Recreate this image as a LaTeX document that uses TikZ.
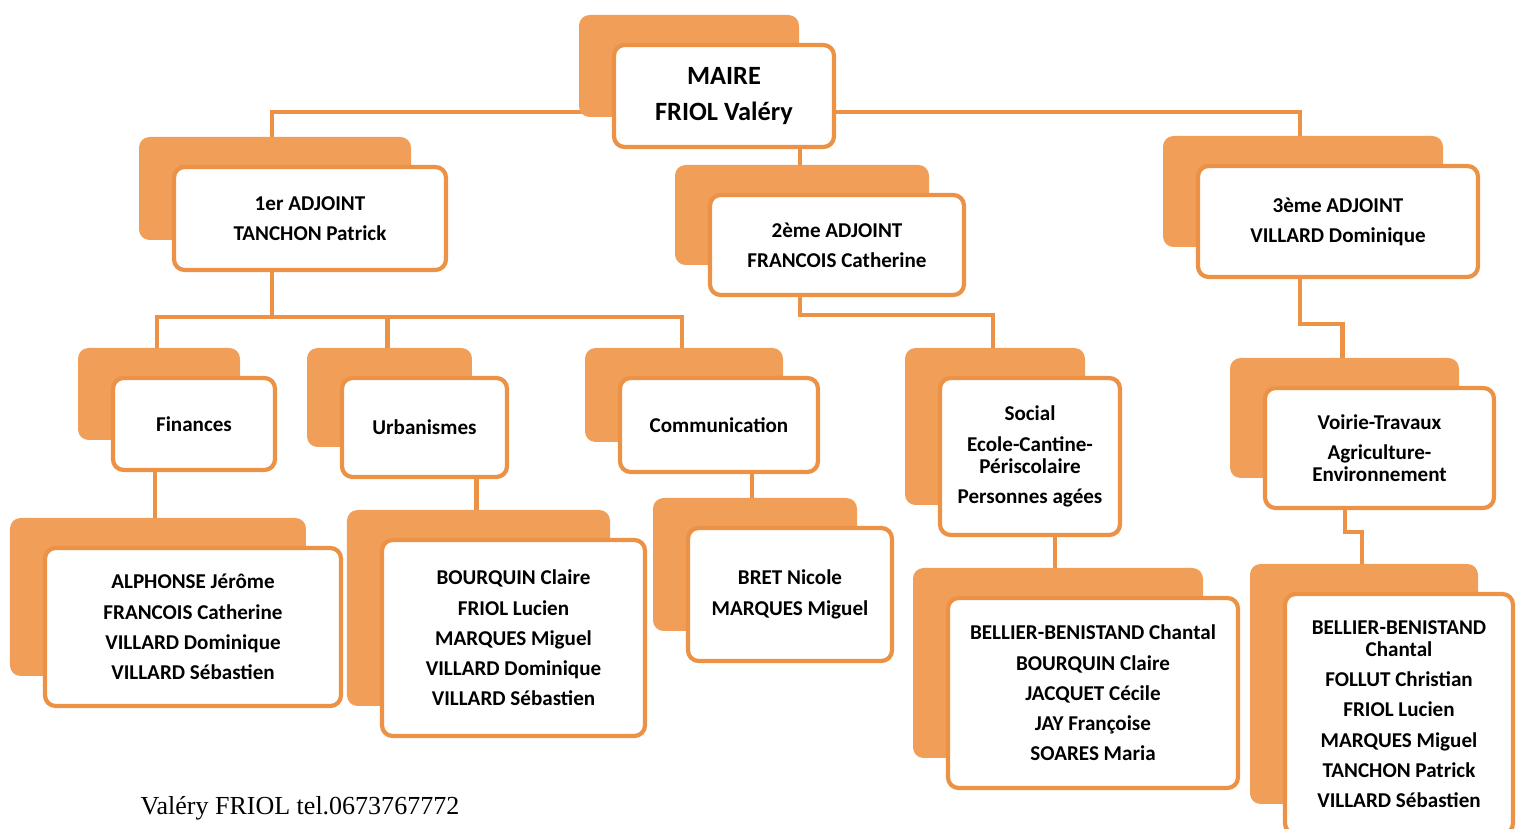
\documentclass[tikz,border=0pt]{standalone}
\usepackage{fontspec}
\setmainfont{Carlito}
\newfontfamily\footfont{Liberation Serif}
\usetikzlibrary{backgrounds,shadows}
\definecolor{cardline}{RGB}{236,146,70}
\definecolor{cardfill}{RGB}{240,158,88}
\tikzset{
  card/.style={draw=cardline, line width=1.2pt, fill=white, rounded corners=3pt,
    align=center, inner sep=1pt, font=\bfseries\fontsize{6}{8.6}\selectfont,
    general shadow={fill=cardfill, shadow xshift=-0.35cm, shadow yshift=0.3cm}},
  link/.style={draw=cardline, line width=1.2pt}
}
\begin{document}
\begin{tikzpicture}
\useasboundingbox (0cm,0cm) rectangle (15.17cm,-8.29cm);
% chef
\node[card, minimum width=2.2cm, minimum height=1.02cm, font=\bfseries\fontsize{7.5}{10.5}\selectfont] (maire) at (7.24cm,-0.96cm) {MAIRE\\FRIOL Valéry};
% adjoints
\node[card, minimum width=2.72cm, minimum height=1.03cm] (adj1) at (3.10cm,-2.185cm) {1er ADJOINT\\TANCHON Patrick};
\node[card, minimum width=2.54cm, minimum height=1.00cm] (adj2) at (8.37cm,-2.45cm) {2ème ADJOINT\\FRANCOIS Catherine};
\node[card, minimum width=2.80cm, minimum height=1.11cm] (adj3) at (13.38cm,-2.215cm) {3ème ADJOINT\\VILLARD Dominique};
% commissions
\node[card, minimum width=1.62cm, minimum height=0.92cm] (fin) at (1.94cm,-4.24cm) {Finances};
\node[card, minimum width=1.65cm, minimum height=0.99cm] (urb) at (4.245cm,-4.275cm) {Urbanismes};
\node[card, minimum width=1.98cm, minimum height=0.94cm] (com) at (7.19cm,-4.25cm) {Communication};
\node[card, minimum width=1.80cm, minimum height=1.57cm] (soc) at (10.30cm,-4.565cm) {Social\\Ecole-Cantine-\\[-2.3pt]Périscolaire\\Personnes agées};
\node[card, minimum width=2.29cm, minimum height=1.20cm] (voi) at (13.795cm,-4.48cm) {Voirie-Travaux\\Agriculture-\\[-2.3pt]Environnement};
% membres
\node[card, minimum width=2.96cm, minimum height=1.58cm] (finm) at (1.93cm,-6.27cm) {ALPHONSE Jérôme\\FRANCOIS Catherine\\VILLARD Dominique\\VILLARD Sébastien};
\node[card, minimum width=2.63cm, minimum height=1.96cm] (urbm) at (5.135cm,-6.38cm) {BOURQUIN Claire\\FRIOL Lucien\\MARQUES Miguel\\VILLARD Dominique\\VILLARD Sébastien};
\node[card, minimum width=2.04cm, minimum height=1.33cm] (comm) at (7.90cm,-5.945cm) {BRET Nicole\\MARQUES Miguel};
\node[card, minimum width=2.90cm, minimum height=1.90cm] (socm) at (10.93cm,-6.93cm) {BELLIER-BENISTAND Chantal\\BOURQUIN Claire\\JACQUET Cécile\\JAY Françoise\\SOARES Maria};
\node[card, minimum width=2.28cm, minimum height=2.40cm] (voim) at (13.99cm,-7.14cm) {BELLIER-BENISTAND\\[-2.3pt]Chantal\\FOLLUT Christian\\FRIOL Lucien\\MARQUES Miguel\\TANCHON Patrick\\VILLARD Sébastien};
% liens
\begin{scope}[on background layer]
\draw[link] ([yshift=-0.16cm]maire.center) -| ([xshift=-0.38cm]adj1.north);
\draw[link] ([yshift=-0.16cm]maire.center) -| ([xshift=-0.38cm]adj3.north);
\draw[link] ([xshift=0.76cm]maire.south) -- ([xshift=0.76cm]maire.south |- adj2.north);
\foreach \c in {fin,urb,com}
  \draw[link] ([xshift=-0.38cm]adj1.south) -- ++(0,-0.45) -| ([xshift=-0.37cm]\c.north);
\draw[link] ([xshift=-0.37cm]adj2.south) -- ++(0,-0.18) -| ([xshift=-0.37cm]soc.north);
\draw[link] ([xshift=-0.38cm]adj3.south) -- ++(0,-0.45) -| ([xshift=-0.37cm]voi.north);
\draw[link] ([xshift=-0.345cm]voi.south) -- ++(0,-0.22) -| ([xshift=-0.37cm]voim.north);
\draw[link] ([xshift=-0.38cm]finm.north |- fin.south) -- ([xshift=-0.38cm]finm.north);
\draw[link] ([xshift=-0.37cm]urbm.north |- urb.south) -- ([xshift=-0.37cm]urbm.north);
\draw[link] ([xshift=-0.38cm]comm.north |- com.south) -- ([xshift=-0.38cm]comm.north);
\draw[link] ([xshift=-0.38cm]socm.north |- soc.south) -- ([xshift=-0.38cm]socm.north);
\end{scope}
\node[anchor=base west, font=\footfont\fontsize{7.4}{9}\selectfont, inner sep=0pt] (tel) at (1.40cm,-8.15cm) {Valéry FRIOL tel.0673767772};
\end{tikzpicture}
\end{document}
